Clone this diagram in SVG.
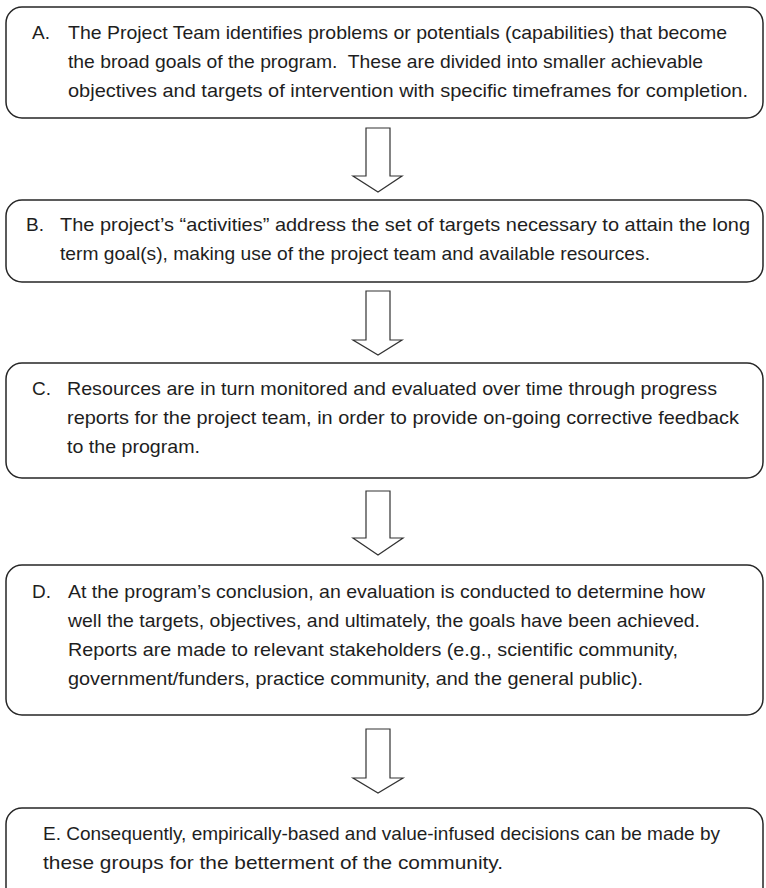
<svg xmlns="http://www.w3.org/2000/svg" width="766" height="888" viewBox="0 0 766 888">
<style>
.box{fill:#fff;stroke:#262626;stroke-width:1.5}
.arr{fill:#fff;stroke:#333;stroke-width:1.2;stroke-linejoin:miter}
.t{font-family:"Liberation Sans",Arial,sans-serif;font-size:19px;fill:#1e1e1e;white-space:pre}
</style>
<rect width="766" height="888" fill="#fff"/>
<g id="connectors">
<polygon class="arr" points="366,128 390,128 390,176 402,176 378,192 353,176 366,176"/>
<polygon class="arr" points="366,291 390,291 390,340 402,340 378,355 353,340 366,340"/>
<polygon class="arr" points="366,491 390,491 390,538 403,538 378,555 353,538 366,538"/>
<polygon class="arr" points="366,729 390,729 390,778 403,778 378,793 353,778 366,778"/>
</g>
<g id="nodeA">
<rect class="box" x="6" y="7" width="757" height="111" rx="16"/>
<text class="t" x="32" y="39">A.</text>
<text class="t" x="68" y="39" textLength="659" lengthAdjust="spacingAndGlyphs">The Project Team identifies problems or potentials (capabilities) that become</text>
<text class="t" x="68" y="68" textLength="635" lengthAdjust="spacingAndGlyphs">the broad goals of the program.  These are divided into smaller achievable</text>
<text class="t" x="68" y="97" textLength="680" lengthAdjust="spacingAndGlyphs">objectives and targets of intervention with specific timeframes for completion.</text>
</g>
<g id="nodeB">
<rect class="box" x="6" y="200" width="757" height="82" rx="16"/>
<text class="t" x="26" y="231">B.</text>
<text class="t" x="60" y="231" textLength="690" lengthAdjust="spacingAndGlyphs">The project’s “activities” address the set of targets necessary to attain the long</text>
<text class="t" x="60" y="260" textLength="590" lengthAdjust="spacingAndGlyphs">term goal(s), making use of the project team and available resources.</text>
</g>
<g id="nodeC">
<rect class="box" x="6" y="363" width="757" height="115" rx="16"/>
<text class="t" x="32" y="395">C.</text>
<text class="t" x="67" y="395" textLength="650" lengthAdjust="spacingAndGlyphs">Resources are in turn monitored and evaluated over time through progress</text>
<text class="t" x="67" y="424" textLength="672" lengthAdjust="spacingAndGlyphs">reports for the project team, in order to provide on-going corrective feedback</text>
<text class="t" x="67" y="453" textLength="133" lengthAdjust="spacingAndGlyphs">to the program.</text>
</g>
<g id="nodeD">
<rect class="box" x="6" y="565" width="757" height="150" rx="16"/>
<text class="t" x="32" y="598">D.</text>
<text class="t" x="68" y="598" textLength="637" lengthAdjust="spacingAndGlyphs">At the program’s conclusion, an evaluation is conducted to determine how</text>
<text class="t" x="68" y="627" textLength="632" lengthAdjust="spacingAndGlyphs">well the targets, objectives, and ultimately, the goals have been achieved.</text>
<text class="t" x="68" y="656" textLength="610" lengthAdjust="spacingAndGlyphs">Reports are made to relevant stakeholders (e.g., scientific community,</text>
<text class="t" x="68" y="685" textLength="575" lengthAdjust="spacingAndGlyphs">government/funders, practice community, and the general public).</text>
</g>
<g id="nodeE">
<rect class="box" x="6" y="808" width="757" height="100" rx="16"/>
<text class="t" x="43" y="840" textLength="677" lengthAdjust="spacingAndGlyphs">E. Consequently, empirically-based and value-infused decisions can be made by</text>
<text class="t" x="43" y="869" textLength="460" lengthAdjust="spacingAndGlyphs">these groups for the betterment of the community.</text>
</g>
</svg>
